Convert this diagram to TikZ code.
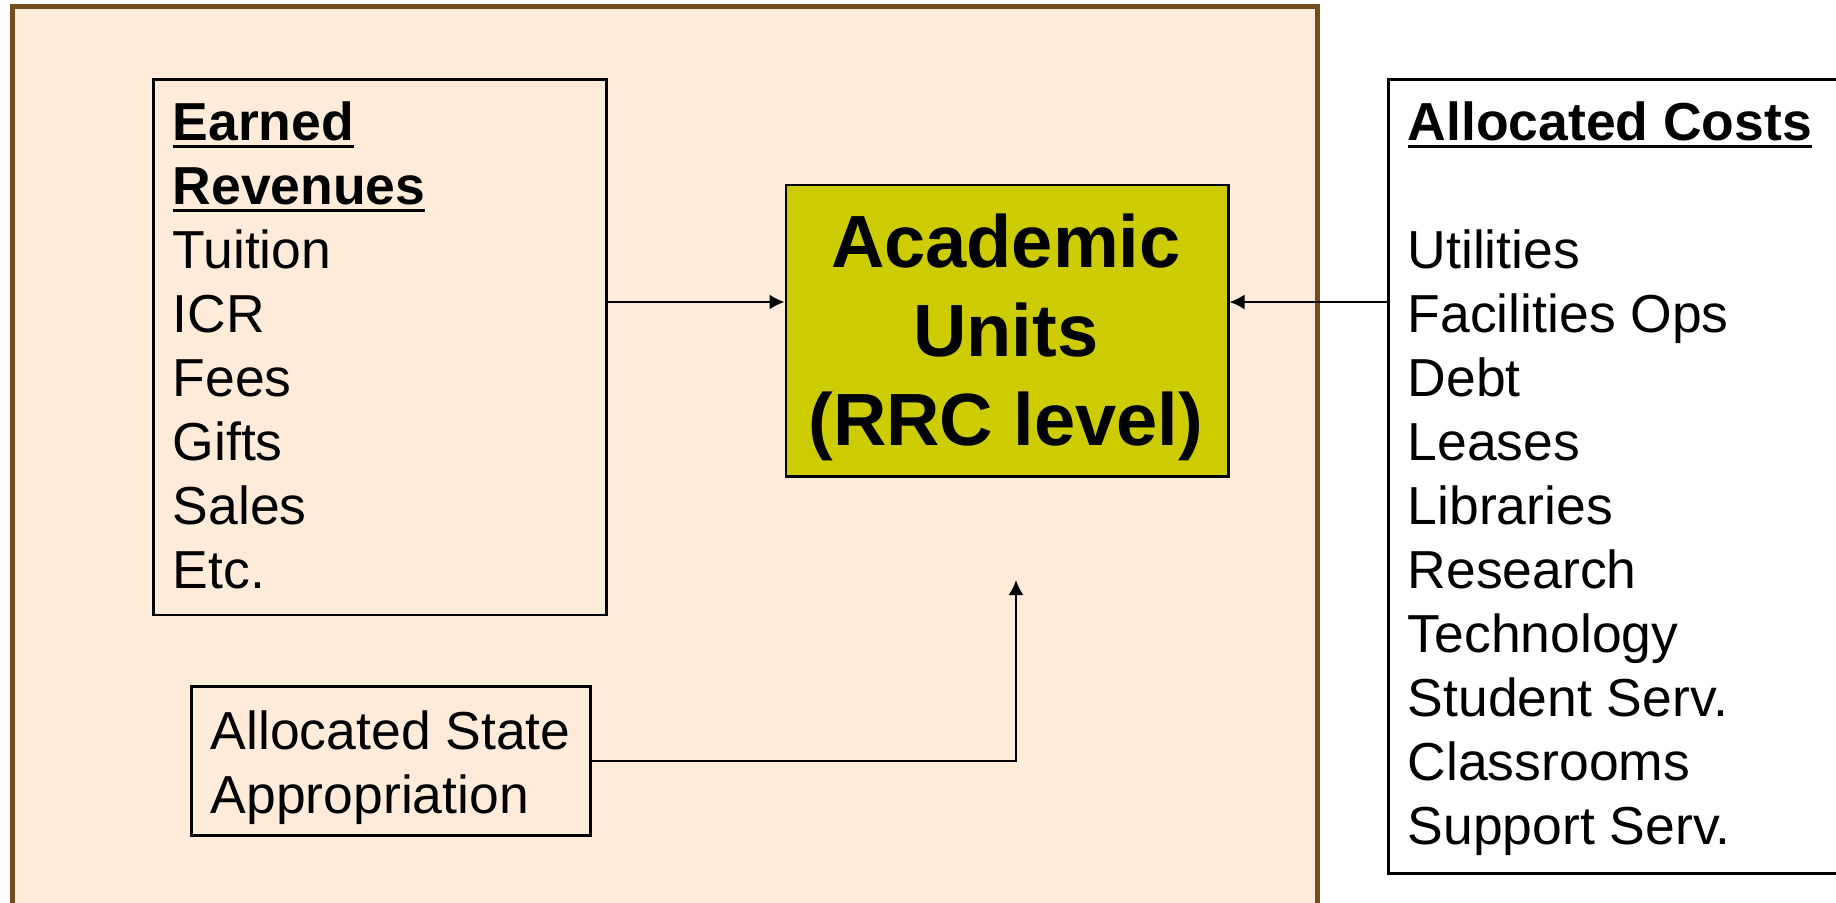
\documentclass[tikz,border=0pt]{standalone}
\usepackage{fontspec}
\setmainfont{Liberation Sans}
\usetikzlibrary{arrows.meta}
\definecolor{peach}{RGB}{255,235,217}
\definecolor{brownb}{RGB}{117,78,30}
\definecolor{olivebox}{RGB}{204,204,0}
\newcommand\myul[1]{\setbox0=\hbox{#1}\rlap{\rule[-7pt]{\wd0}{3pt}}\box0}
\tikzset{
  boxnode/.style={draw=black, line width=2.5pt, inner sep=0pt, anchor=north west},
  txt/.style={inner sep=0pt, font=\fontsize{53.5}{64}\selectfont},
  bigtxt/.style={inner sep=0pt, font=\fontsize{74}{89}\selectfont\bfseries},
  arr/.style={-{Latex[length=15pt,width=15pt]}, line width=2pt, black}
}
\begin{document}
\begin{tikzpicture}[x=1pt,y=-1pt]
\useasboundingbox (0,0) rectangle (1836,902);
\clip (0,0) rectangle (1836,902);
\fill[white] (0,0) rectangle (1836,902);
\draw[brownb, line width=5pt, fill=peach] (12,6) rectangle (1317,940);

\node[boxnode, minimum width=453.2pt, minimum height=535.2pt] (earned) at (152.2,78.4) {};
\node[boxnode, fill=olivebox, minimum width=442.5pt, minimum height=291.6pt] (acad) at (784.5,183.8) {};
\node[boxnode, minimum width=399pt, minimum height=149pt] (state) at (190,685) {};
\node[boxnode, fill=white, minimum width=600pt, minimum height=794pt] (costs) at (1387,78.4) {};

\node[txt, anchor=north west, align=left] (etxt) at (172.5,100.5)
  {\rule{0pt}{40pt}\textbf{\myul{Earned}}\\\textbf{\myul{Revenues}}\\Tuition\\ICR\\Fees\\Gifts\\Sales\\Etc.};
\node[txt, anchor=north west, align=left] (ctxt) at (1407.5,100.5)
  {\rule{0pt}{40pt}\textbf{\myul{Allocated Costs}}\\ \\Utilities\\Facilities Ops\\Debt\\Leases\\Libraries\\Research\\Technology\\Student Serv.\\Classrooms\\Support Serv.};
\node[txt, anchor=north west, align=left] (stxt) at (210.5,709)
  {\rule{0pt}{40pt}Allocated State\\Appropriation};
\node[bigtxt, anchor=north, align=center] (atxt) at (1005.8,207)
  {\rule{0pt}{60pt}Academic\\Units\\(RRC level)};

\coordinate (ay) at (0,302);
\coordinate (up) at (1016,580);
\draw[arr] (earned.east |- ay) -- (acad.west |- ay);
\draw[arr] (costs.west |- ay) -- (acad.east |- ay);
\draw[arr] (state.east) -| (up);
\end{tikzpicture}
\end{document}
